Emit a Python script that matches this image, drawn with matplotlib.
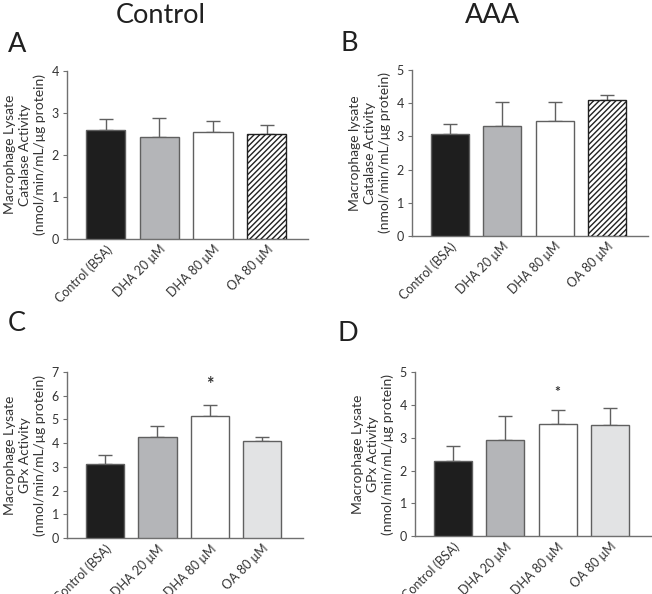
import matplotlib.pyplot as plt

plt.rcParams['font.family'] = ['Lato', 'DejaVu Sans']

groups = ["Control (BSA)", "DHA 20 \u03bcM", "DHA 80 \u03bcM", "OA 80 \u03bcM"]

# panel A: control, catalase
cat_ctrl = [2.59, 2.43, 2.55, 2.50]
cat_ctrl_top = [2.84, 2.87, 2.80, 2.71]
# panel B: AAA, catalase
cat_aaa = [3.06, 3.30, 3.46, 4.09]
cat_aaa_top = [3.36, 4.04, 4.03, 4.25]
# panel C: control, GPx
gpx_ctrl = [3.14, 4.26, 5.15, 4.10]
gpx_ctrl_top = [3.49, 4.71, 5.59, 4.27]
# panel D: AAA, GPx
gpx_aaa = [2.29, 2.94, 3.43, 3.37]
gpx_aaa_top = [2.76, 3.66, 3.83, 3.91]

fig = plt.figure(figsize=(6.52, 5.94), dpi=100)

axis_col = "#707070"
txt_col = "#333333"
cat_colors = ["#1e1e1e", "#b4b5b8", "white", "white"]
gpx_colors = ["#1e1e1e", "#b4b5b8", "white", "#e2e3e4"]


def panel(rect, vals, tops, ymax, colors, hatch_last, ylab, star=None):
    ax = fig.add_axes(rect)
    x = range(len(groups))
    bars = ax.bar(x, vals, width=0.73, color=colors, edgecolor="#606060", linewidth=1.0, zorder=3)
    if hatch_last:
        bars[-1].set_hatch("//////")
        bars[-1].set_edgecolor("#202020")
    up = [t - v for t, v in zip(tops, vals)]
    ax.errorbar(x, vals, yerr=[[0] * len(vals), up], fmt="none", ecolor="#606060",
                elinewidth=1.0, capsize=5, capthick=1.0, zorder=2)
    if star is not None:
        ax.text(star[0], star[1], "*", ha="center", va="center", fontsize=star[2],
                fontweight="bold", color=txt_col)
    ax.set_xlim(-0.72, 3.78)
    ax.set_ylim(0, ymax)
    ax.set_yticks(range(ymax + 1))
    ax.set_xticks(list(x))
    ax.set_xticklabels(groups, rotation=45, ha="right", rotation_mode="anchor", fontsize=9, color=txt_col)
    ax.tick_params(axis="x", length=0, pad=3)
    ax.tick_params(axis="y", length=3, color=axis_col, labelsize=9, labelcolor=txt_col, pad=3)
    for s in ["top", "right"]:
        ax.spines[s].set_visible(False)
    for s in ["left", "bottom"]:
        ax.spines[s].set_color(axis_col)
        ax.spines[s].set_linewidth(1.0)
    ax.set_ylabel(ylab, fontsize=10, color=txt_col, linespacing=1.25, labelpad=4)
    return ax


panel([0.103, 0.598, 0.370, 0.283], cat_ctrl, cat_ctrl_top, 4, cat_colors, True,
      "Macrophage Lysate\nCatalase Activity\n(nmol/min/mL/\u03bcg protein)")
panel([0.632, 0.603, 0.362, 0.279], cat_aaa, cat_aaa_top, 5, cat_colors, True,
      "Macrophage lysate\nCatalase Activity\n(nmol/min/mL/\u03bcg protein)")
panel([0.103, 0.094, 0.362, 0.280], gpx_ctrl, gpx_ctrl_top, 7, gpx_colors, False,
      "Macrophage Lysate\nGPx Activity\n(nmol/min/mL/\u03bcg protein)", star=(2, 6.45, 13))
panel([0.637, 0.097, 0.361, 0.277], gpx_aaa, gpx_aaa_top, 5, gpx_colors, False,
      "Macrophage Lysate\nGPx Activity\n(nmol/min/mL/\u03bcg protein)", star=(2, 4.38, 10))

fig.text(0.246, 0.974, "Control", ha="center", va="center", fontsize=19.5, color="#202020")
fig.text(0.755, 0.974, "AAA", ha="center", va="center", fontsize=19.5, color="#202020")
for lab, px, py in [("A", 0.012, 0.925), ("B", 0.522, 0.926), ("C", 0.012, 0.456), ("D", 0.518, 0.438)]:
    fig.text(px, py, lab, ha="left", va="center", fontsize=19.5, color="#202020")

fig.savefig("out.png", dpi=100)
